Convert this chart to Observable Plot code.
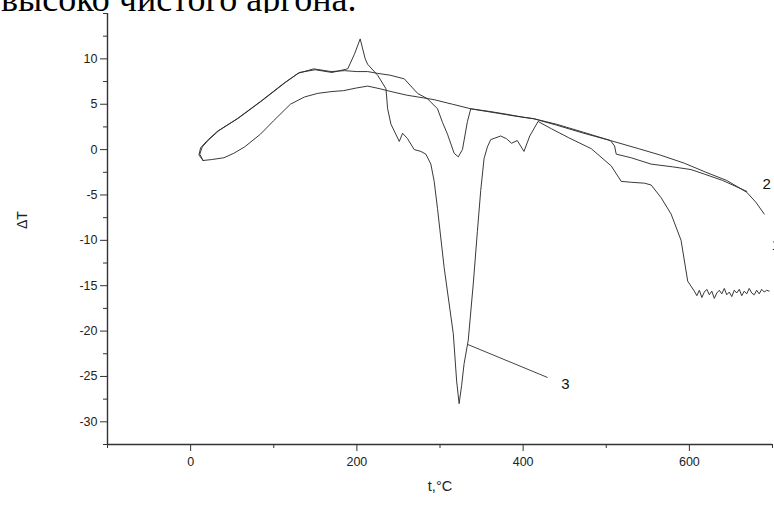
<!DOCTYPE html>
<html>
<head>
<meta charset="utf-8">
<script src="https://cdn.jsdelivr.net/npm/d3@7"></script>
<script src="https://cdn.jsdelivr.net/npm/@observablehq/plot@0.6"></script>
<style>
  html, body { margin: 0; padding: 0; background: #fff; overflow: hidden; }
  #head { position: relative; height: 13px; width: 774px; overflow: hidden; }
  #head span { position: absolute; left: 1px; top: -19px; font-family: "Liberation Serif", "Times New Roman", serif; font-size: 36px; line-height: 36px; color: #000; white-space: nowrap; }
</style>
</head>
<body>
<div id="head"><span>высоко чистого аргона.</span></div>
<div id="chart"></div>
<script>
// Tick values
const xMajor = [0, 200, 400, 600];
const xMinor = [-100, 100, 300, 500, 700];
const yMajor = [-30, -25, -20, -15, -10, -5, 0, 5, 10];
const yMinor = [-32.5, -27.5, -22.5, -17.5, -12.5, -7.5, -2.5, 2.5, 7.5, 12.5, 15];

// Curve 1 (lower branch of the loop)
const t1 = [15, 25, 40, 52, 65, 84, 100, 120, 137, 153, 170, 184, 200, 213, 228, 241, 260, 280, 293, 315, 337, 360, 380, 398, 413, 440, 473, 505, 539, 565, 594, 620, 645, 669, 680, 690];
const v1 = [-1.2, -1.1, -0.9, -0.4, 0.3, 1.7, 3.2, 5.0, 5.8, 6.2, 6.4, 6.5, 6.8, 7.0, 6.7, 6.4, 6.0, 5.7, 5.5, 5.0, 4.5, 4.2, 3.9, 3.6, 3.4, 2.7, 1.8, 1.0, 0.1, -0.6, -1.5, -2.5, -3.4, -4.7, -5.8, -7.1];

// Curve 2 (shallow dip near 320)
const t2 = [15, 10, 12, 20, 32, 56, 84, 112, 129, 148, 169, 185, 200, 213, 225, 240, 257, 273, 285, 297, 303, 309, 317, 322, 327, 333, 337, 350, 370, 390, 413, 440, 473, 505, 510, 512, 530, 554, 580, 602, 618, 640, 669];
const v2 = [-1.2, -0.6, 0.2, 1.0, 2.0, 3.4, 5.3, 7.3, 8.4, 8.9, 8.6, 8.7, 8.6, 8.6, 8.4, 8.2, 7.8, 6.2, 5.6, 4.5, 3.0, 1.7, -0.4, -0.8, 0.0, 3.1, 4.5, 4.3, 4.0, 3.7, 3.4, 2.8, 1.9, 1.0, 0.4, -0.5, -0.9, -1.6, -1.9, -2.2, -2.7, -3.4, -4.6];

// Curve 3 (spike at ~205, deep minimum at ~323, step to -15.7)
const t3 = [15, 11, 14, 22, 34, 58, 86, 114, 131, 150, 170, 189, 197, 204, 210, 213, 225, 235, 237, 241, 251, 255, 261, 269, 277, 283, 289, 293, 297, 305, 316, 320, 323, 326, 329, 334, 340, 345, 349, 353, 357, 361, 373, 380, 386, 393, 401, 408, 418, 434, 455, 482, 506, 518, 530, 546, 554, 566, 578, 590, 598,
  606, 609, 612, 615, 618, 621, 624, 627, 630, 633, 636, 639, 642, 645, 648, 651, 654, 657, 660, 663, 666, 669, 672, 675, 678, 681, 684, 687, 690, 693, 696];
const v3 = [-1.2, -0.5, 0.3, 1.1, 2.1, 3.5, 5.4, 7.4, 8.5, 8.8, 8.5, 8.9, 10.5, 12.2, 10.0, 9.4, 8.2, 6.7, 4.5, 2.8, 0.9, 1.8, 1.2, 0.0, -0.2, -0.5, -1.6, -3.5, -6.5, -13.0, -20.3, -25.5, -28.0, -26.0, -23.6, -21.0, -14.8, -9.0, -4.5, -1.0, 0.3, 1.1, 1.5, 1.2, 0.7, 1.0, -0.2, 1.5, 3.1, 2.3, 1.3, 0.1, -1.8, -3.5, -3.6, -3.7, -3.9, -5.3, -7.1, -10.0, -14.5,
  -15.6, -16.1, -15.5, -16.3, -15.7, -15.4, -16.0, -15.6, -16.4, -15.8, -15.5, -15.9, -15.3, -16.0, -15.7, -16.2, -15.5, -15.8, -15.4, -16.1, -15.6, -15.9, -15.3, -15.8, -16.0, -15.5, -15.9, -15.4, -15.7, -15.5, -15.6];

// Curve labels and leader line
const labelText = ["1", "2", "3"];
const labelT = [699, 693, 446];
const labelV = [-10.5, -3.8, -25.8];
const labelAnchor = ["start", "middle", "start"];
const leaderT = [334, 429];
const leaderV = [-21.5, -25.1];

const toRows = (t, v) => t.map((d, i) => ({t: d, v: v[i]}));
const c1 = toRows(t1, v1), c2 = toRows(t2, v2), c3 = toRows(t3, v3);
const labels = labelText.map((s, i) => ({s, t: labelT[i], v: labelV[i], a: labelAnchor[i]}));
const leader = toRows(leaderT, leaderV);

const lineStyle = {x: "t", y: "v", stroke: "#2e2e2e", strokeWidth: 0.95, curve: "linear"};
const fmt = d => String(d);

const chart = Plot.plot({
  width: 774,
  height: 505,
  marginTop: 0,
  marginBottom: 74,
  marginLeft: 107,
  marginRight: 2,
  x: {domain: [-100, 700]},
  y: {domain: [-32.5, 15]},
  style: {fontFamily: "'Liberation Sans', Arial, sans-serif", fontSize: "12.5px", color: "#222", background: "#fff"},
  marks: [
    Plot.axisY({ticks: yMajor, tickSize: 7, tickPadding: 3, tickFormat: fmt, label: null, fontSize: 12.5, stroke: "#333"}),
    Plot.axisY({ticks: yMinor, tickSize: 4, tickFormat: () => "", label: null, stroke: "#333"}),
    Plot.axisX({ticks: xMajor, tickSize: 7, tickPadding: 6, tickFormat: fmt, label: null, fontSize: 12.5, stroke: "#333"}),
    Plot.axisX({ticks: xMinor, tickSize: 4, tickFormat: () => "", label: null, stroke: "#333"}),
    Plot.ruleX([-100], {stroke: "#333", strokeWidth: 1.4}),
    Plot.ruleY([-32.5], {stroke: "#333", strokeWidth: 1.4}),
    Plot.line(c1, lineStyle),
    Plot.line(c2, lineStyle),
    Plot.line(c3, lineStyle),
    Plot.line(leader, {x: "t", y: "v", stroke: "#444", strokeWidth: 1}),
    Plot.text(labels.filter(d => d.a === "start"), {x: "t", y: "v", text: "s", fontSize: 15, fill: "#111", textAnchor: "start"}),
    Plot.text(labels.filter(d => d.a === "middle"), {x: "t", y: "v", text: "s", fontSize: 15, fill: "#111", textAnchor: "middle"}),
    Plot.text(["ΔT"], {frameAnchor: "left", dx: -85, rotate: -90, fontSize: 14, fill: "#222"}),
    Plot.text(["t,°C"], {frameAnchor: "bottom", dy: 46, fontSize: 14.5, fill: "#222"})
  ]
});
document.getElementById("chart").appendChild(chart);
</script>
</body>
</html>
